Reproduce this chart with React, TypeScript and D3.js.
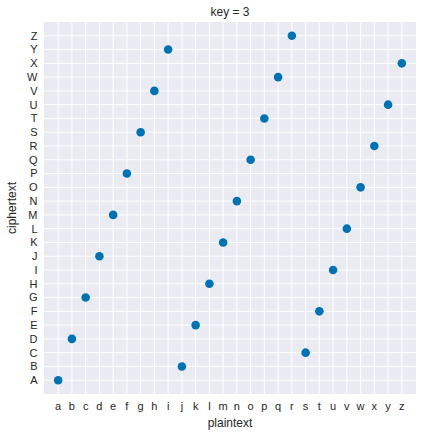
import React from "react";
import * as d3 from "d3";

const plaintext = "abcdefghijklmnopqrstuvwxyz".split("");
const ciphertextLabels = "ABCDEFGHIJKLMNOPQRSTUVWXYZ".split("");
const ciphertext = ["A","D","G","J","M","P","S","V","Y","B","E","H","K","N","Q","T","W","Z","C","F","I","L","O","R","U","X"];
const title = "key = 3";

export default function App() {
  const W = 424, H = 438;
  const left = 44, right = 416, top = 22, bottom = 394;
  const x = d3.scaleLinear().domain([-1.03, 26.03]).range([left, right]);
  const y = d3.scaleLinear().domain([-1.0, 26.0]).range([bottom, top]);
  const font = "'Liberation Sans', Arial, sans-serif";
  const tc = "#262626";
  return (
    <svg width={W} height={H} style={{ position: "absolute", left: 0, top: 0 }} fontFamily={font}>
      <rect x={0} y={0} width={W} height={H} fill="#fff" />
      <rect x={left} y={top} width={right - left} height={bottom - top} fill="#EAEAF2" />
      {plaintext.map((p, i) => (
        <line key={"gx" + p} x1={x(i)} x2={x(i)} y1={top} y2={bottom} stroke="#fff" strokeWidth={1} />
      ))}
      {ciphertextLabels.map((c, i) => (
        <line key={"gy" + c} x1={left} x2={right} y1={y(i)} y2={y(i)} stroke="#fff" strokeWidth={1} />
      ))}
      {plaintext.map((p, i) => (
        <circle key={"pt" + p} cx={x(i)} cy={y(ciphertextLabels.indexOf(ciphertext[i]))} r={4.3} fill="#0072B2" />
      ))}
      {plaintext.map((p, i) => (
        <text key={"xt" + p} x={x(i)} y={410} textAnchor="middle" fontSize={11} fill={tc}>{p}</text>
      ))}
      {ciphertextLabels.map((c, i) => (
        <text key={"yt" + c} x={37.5} y={y(i)} dy="0.35em" textAnchor="end" fontSize={11} fill={tc}>{c}</text>
      ))}
      <text x={(left + right) / 2} y={16} textAnchor="middle" fontSize={12} fill={tc}>{title}</text>
      <text x={(left + right) / 2} y={427} textAnchor="middle" fontSize={12} fill={tc}>plaintext</text>
      <text transform={`translate(16,${(top + bottom) / 2}) rotate(-90)`} textAnchor="middle" fontSize={12} fill={tc}>ciphertext</text>
    </svg>
  );
}
